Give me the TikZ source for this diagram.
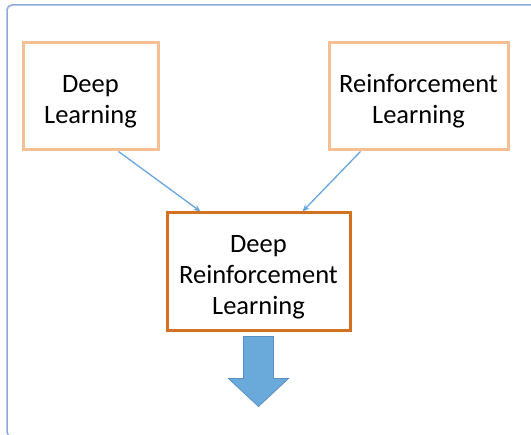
\documentclass[tikz,border=0pt]{standalone}
\usepackage{fontspec}
\setmainfont{Carlito}
\usepackage{xcolor}
\usetikzlibrary{arrows.meta}

\definecolor{framecol}{HTML}{8EA9D8}
\definecolor{peach}{HTML}{F5BF96}
\definecolor{rust}{HTML}{D2711F}
\definecolor{skyline}{HTML}{6AA5DA}
\definecolor{skyfill}{HTML}{6AAADB}
\definecolor{skyedge}{HTML}{5A8FC2}

% text a little below the middle of its box
\newcommand{\boxtext}[1]{\raisebox{0pt}[\dimexpr\height+10pt\relax]{\begin{tabular}{@{}c@{}}#1\end{tabular}}}

\tikzset{
    topic/.style={draw=peach, line width=3pt, font=\fontsize{26.5}{31}\selectfont},
    merged/.style={draw=rust, line width=3pt, font=\fontsize{26.5}{31}\selectfont},
    feed/.style={draw=skyline, line width=1.3pt, -{Stealth[length=7pt,width=6pt]}}
}

\begin{document}
\begin{tikzpicture}[x=1pt, y=-1pt]
    \useasboundingbox (0,0) rectangle (531,435);
    \draw[framecol, line width=1.5pt, rounded corners=5pt] (7,5) rectangle (580,437);
    \node[topic, minimum width=135pt, minimum height=107pt] (dl) at (90.5,96.5) {\boxtext{Deep\\Learning}};
    \node[topic, minimum width=179pt, minimum height=107pt] (rl) at (418.5,96.5) {\boxtext{Reinforcement\\Learning}};
    \node[merged, minimum width=183pt, minimum height=118pt] (drl) at (258.5,272) {\boxtext{Deep\\Reinforcement\\Learning}};
    \draw[feed] ([xshift=28pt]dl.south) -- ([xshift=-58pt]drl.north);
    \draw[feed] ([xshift=-58pt]rl.south) -- ([xshift=44pt]drl.north);
    % block arrow below
    \draw[skyedge, fill=skyfill, line width=0.8pt] ([xshift=-15pt,yshift=-4pt]drl.south) -- ++(30,0) -- ++(0,42) -- ++(15,0)
        -- ([yshift=-74pt]drl.south) -- ++(-30,-28) -- ++(15,0) -- cycle;
\end{tikzpicture}
\end{document}
